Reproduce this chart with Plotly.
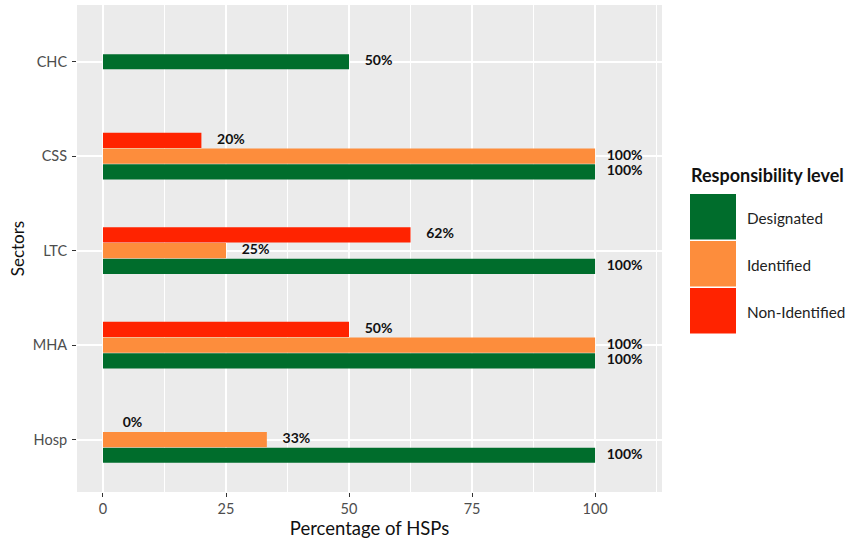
import plotly.graph_objects as go

# ---- data ----
categories = ["Hosp", "MHA", "LTC", "CSS", "CHC"]          # bottom -> top
series_names = ["Designated", "Identified", "Non-Identified"]
designated = [100, 100, 100, 100, 50]
identified = [33.3, 100, 25, 100, None]
non_identified = [0, 50, 62.5, 20, None]
series_colors = ["#006D2C", "#FD8D3C", "#FF2300"]
x_ticks = [0, 25, 50, 75, 100]

series_values = [designated, identified, non_identified]

FONT = "Lato"
W, H = 852, 546
ML, MR, MT, MB = 77, 190, 5, 54
PW, PH = W - ML - MR, H - MT - MB

dodge_total = 0.5
bar_w = dodge_total / len(series_names)
label_offset = 6

fig = go.Figure()

positions = {s: [] for s in range(len(series_names))}
for ci, cat in enumerate(categories):
    present = [si for si in range(len(series_names)) if series_values[si][ci] is not None]
    n = len(present)
    for k, si in enumerate(present):
        positions[si].append((ci, ci + (k - (n - 1) / 2) * bar_w))

for si, name in enumerate(series_names):
    xs, ys = [], []
    for ci, ypos in positions[si]:
        xs.append(series_values[si][ci])
        ys.append(ypos)
    fig.add_trace(go.Bar(
        x=xs, y=ys, orientation="h", width=bar_w * 0.96,
        marker=dict(color=series_colors[si], line=dict(width=0)),
        name=name, showlegend=False, hoverinfo="skip"))
    fig.add_trace(go.Scatter(
        x=[v + label_offset for v in xs], y=ys, mode="text",
        text=[f"{round(v)}%" for v in xs], textposition="middle center",
        textfont=dict(family=FONT, size=14, color="#111111", weight="bold"),
        showlegend=False, hoverinfo="skip"))

fig.update_layout(
    width=W, height=H,
    margin=dict(l=ML, r=MR, t=MT, b=MB, autoexpand=False),
    paper_bgcolor="white", plot_bgcolor="#EBEBEB",
    barmode="overlay",
    font=dict(family=FONT, color="#4D4D4D"),
    xaxis=dict(
        range=[-5.28, 113.6], tickvals=x_ticks, showgrid=True,
        gridcolor="white", gridwidth=1.6, zeroline=False,
        ticks="outside", ticklen=4, tickcolor="#333333", tickwidth=1,
        tickfont=dict(size=14.5, color="#4D4D4D", family=FONT),
        minor=dict(tick0=12.5, dtick=25, showgrid=True, gridcolor="white",
                   gridwidth=0.8, ticks=""),
        title=dict(text="Percentage of HSPs", font=dict(size=18.5, color="#111111", family=FONT),
                   standoff=2),
    ),
    yaxis=dict(
        range=[-0.555, len(categories) - 1 + 0.6],
        tickvals=list(range(len(categories))), ticktext=categories,
        showgrid=True, gridcolor="white", gridwidth=1.6, zeroline=False,
        ticks="outside", ticklen=4, tickcolor="#333333", tickwidth=1,
        tickfont=dict(size=14.5, color="#4D4D4D", family=FONT),
        ticklabelstandoff=2,
        title=dict(text="Sectors", font=dict(size=17, color="#111111", family=FONT),
                   standoff=3),
    ),
)

# ---- manual legend (large keys like ggplot) ----
def px_x(p):
    return (p - ML) / PW

def px_y(p):
    return (H - MB - p) / PH

key_x0, key_x1 = 690, 736
key_top, key_h = 194, 47
fig.add_annotation(x=px_x(689), y=px_y(175), xref="paper", yref="paper",
                   text="<b>Responsibility level</b>", showarrow=False,
                   xanchor="left", yanchor="middle",
                   font=dict(family=FONT, size=18, color="#111111"))
for si, name in enumerate(series_names):
    y0 = key_top + si * key_h
    fig.add_shape(type="rect", xref="paper", yref="paper",
                  x0=px_x(key_x0), x1=px_x(key_x1),
                  y0=px_y(y0 + key_h - 1.5), y1=px_y(y0),
                  fillcolor=series_colors[si], line=dict(width=0))
    fig.add_annotation(x=px_x(745), y=px_y(y0 + key_h / 2), xref="paper", yref="paper",
                       text=name, showarrow=False, xanchor="left", yanchor="middle",
                       font=dict(family=FONT, size=15.3, color="#222222"))

fig.write_html("out.html", config={"displayModeBar": False},
               post_script="document.body.style.margin='0';document.body.style.overflow='hidden';")
